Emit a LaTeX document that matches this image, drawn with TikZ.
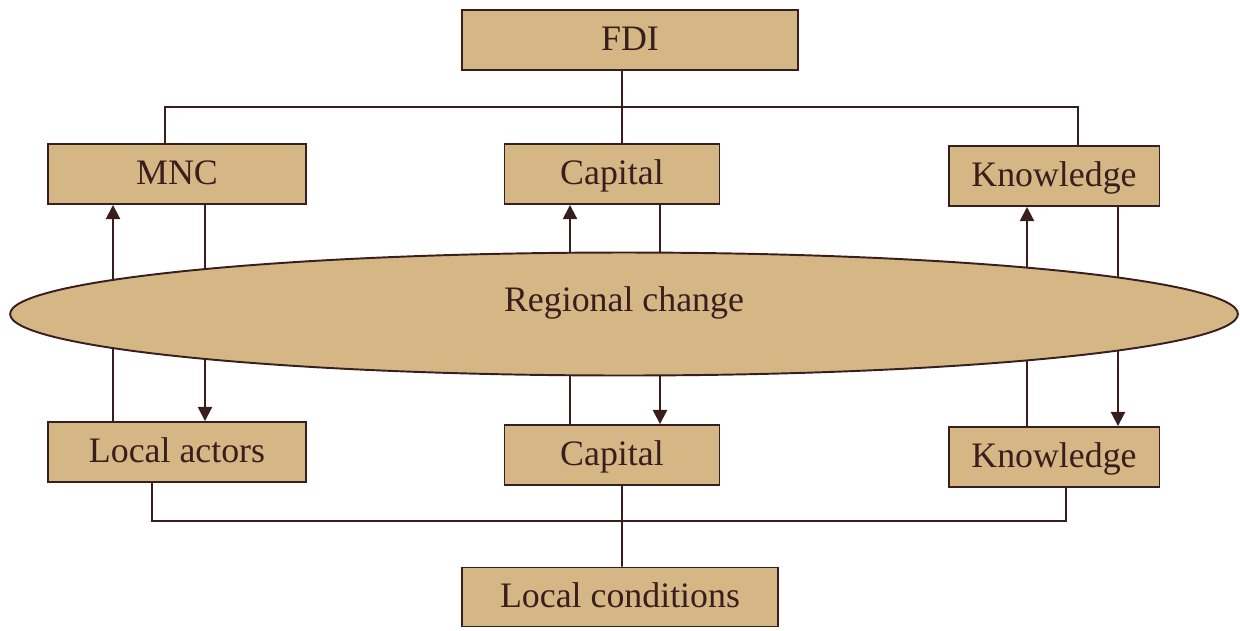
\documentclass[tikz,border=0pt]{standalone}
\usepackage{fontspec}
\setmainfont{Liberation Serif}
\usepackage{xcolor}
\usepackage{tikz}
\usetikzlibrary{arrows.meta,shapes}

\definecolor{tan}{HTML}{D4B785}
\definecolor{darkbrown}{HTML}{3A1E1E}

\begin{document}
\begin{tikzpicture}[
        x=0.02cm, y=-0.02cm,
        box/.style={draw=darkbrown, fill=tan, line width=1.1pt, rectangle, minimum height=1.2cm, text height=14pt, text depth=2pt, text=darkbrown, font=\fontsize{20.4}{24}\selectfont},
        link/.style={draw=darkbrown, line width=1.1pt},
        arr/.style={link, -{Triangle[width=8pt,length=8pt]}}
      ]
        \useasboundingbox (0,0) rectangle (1240,630);
        \node[box, minimum width=6.72cm] (fdi) at (630,40) {FDI};
        \node[box, minimum width=5.16cm] (mnc) at (177,174) {MNC};
        \node[box, minimum width=4.3cm] (cap1) at (612,174) {Capital};
        \node[box, minimum width=4.22cm] (know1) at (1054,176) {Knowledge};
        \node[box, minimum width=5.16cm] (lact) at (177,452) {Local actors};
        \node[box, minimum width=4.3cm] (cap2) at (612,455) {Capital};
        \node[box, minimum width=4.22cm] (know2) at (1054,457) {Knowledge};
        \node[box, minimum width=6.32cm, minimum height=1.18cm] (lcond) at (620,597) {Local conditions};

        \coordinate (bt) at (622,107);
        \coordinate (bb) at (622,521);

        % FDI on top
        \draw[link] ([xshift=-0.16cm]fdi.south) -- ([xshift=0.2cm]cap1.north);
        \draw[link] ([xshift=-0.24cm]mnc.north) |- (bt) -| ([xshift=0.48cm]know1.north);

        % local conditions at the bottom
        \draw[link] ([xshift=-0.5cm]lact.south) |- (bb) -| ([xshift=0.24cm]know2.south);
        \draw[link] ([xshift=0.2cm]cap2.south) -- (lcond.north -| bb);

        % flows through the region
        \draw[arr] ([xshift=-1.28cm]lact.north) -- ([xshift=-1.28cm]mnc.south);
        \draw[arr] ([xshift=0.56cm]mnc.south) -- ([xshift=0.56cm]lact.north);
        \draw[arr] ([xshift=-0.84cm]cap2.north) -- ([xshift=-0.84cm]cap1.south);
        \draw[arr] ([xshift=0.96cm]cap1.south) -- ([xshift=0.96cm]cap2.north);
        \draw[arr] ([xshift=-0.54cm]know2.north) -- ([xshift=-0.54cm]know1.south);
        \draw[arr] ([xshift=1.28cm]know1.south) -- ([xshift=1.28cm]know2.north);

        \node[ellipse, draw=darkbrown, fill=tan, line width=1.1pt, minimum width=24.56cm, minimum height=2.46cm] (region) at (624,314) {};
        \node[text=darkbrown, font=\fontsize{20.4}{24}\selectfont] (rlabel) at (624,303) {Regional change};
      \end{tikzpicture}
\end{document}
